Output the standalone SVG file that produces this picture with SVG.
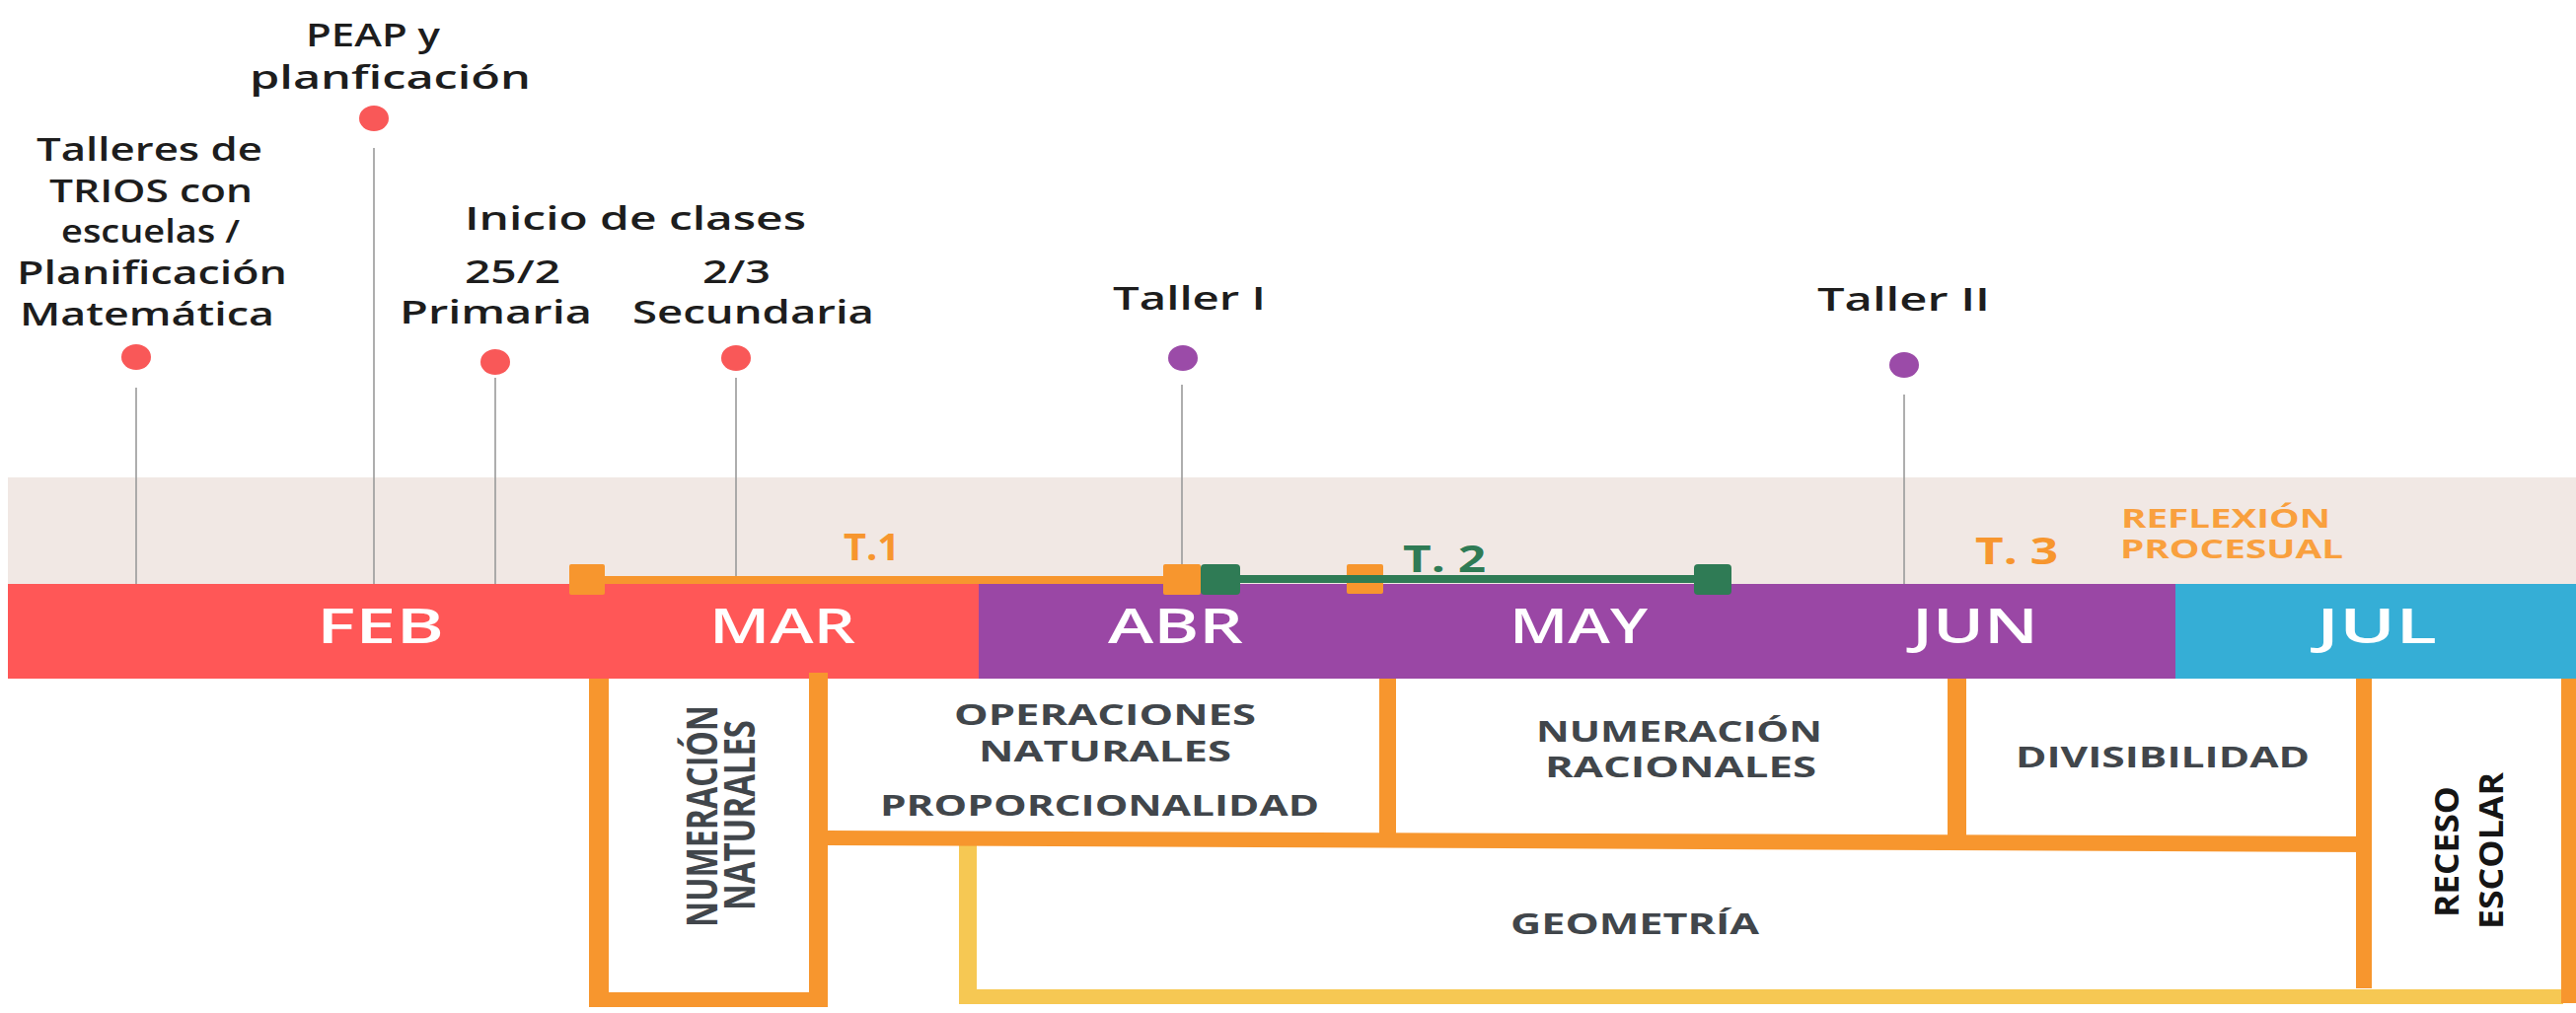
<svg xmlns="http://www.w3.org/2000/svg" width="2611" height="1027" viewBox="0 0 2611 1027">
<style>
.lbl{font-family:"Open Sans","Liberation Sans",sans-serif;font-weight:600;font-size:32px;fill:#1d1d1d}
.mon{font-family:"Open Sans","Liberation Sans",sans-serif;font-weight:600;font-size:48px;fill:#ffffff}
.tri{font-family:"Open Sans","Liberation Sans",sans-serif;font-weight:700;font-size:37px}
.sub{font-family:"Open Sans","Liberation Sans",sans-serif;font-weight:700;font-size:29px;fill:#41464b}
.rot{font-family:"Open Sans","Liberation Sans",sans-serif;font-weight:700;font-size:32px;fill:#41464b}
.rec{font-family:"Open Sans","Liberation Sans",sans-serif;font-weight:800;font-size:26px;fill:#151515}
.or{fill:#F7962E}
.ye{fill:#F6C853}
.gl{stroke:#9a9a9a;stroke-width:1.6;fill:none}
.rd{fill:#F95858}
.pu{fill:#9B4BA8}
</style>
<rect width="2611" height="1027" fill="#ffffff"/>
<g id="band"><rect x="8" y="484" width="2603" height="108" fill="#F1E8E4"/></g>
<g id="connectors">
<line class="gl" x1="138" y1="393" x2="138" y2="592"/>
<line class="gl" x1="379" y1="150" x2="379" y2="592"/>
<line class="gl" x1="502" y1="383" x2="502" y2="592"/>
<line class="gl" x1="746" y1="383" x2="746" y2="592"/>
<line class="gl" x1="1198" y1="390" x2="1198" y2="592"/>
<line class="gl" x1="1930" y1="400" x2="1930" y2="597"/>
</g>
<g id="timeline">
<rect x="8" y="592" width="984" height="96" fill="#FF5757"/>
<rect x="992" y="592" width="1213" height="96" fill="#9A47A5"/>
<rect x="2205" y="592" width="406" height="96" fill="#35AED6"/>
<text class="mon" x="321" y="652" textLength="129" lengthAdjust="spacingAndGlyphs">FEB</text>
<text class="mon" x="719" y="652" textLength="148" lengthAdjust="spacingAndGlyphs">MAR</text>
<text class="mon" x="1123" y="652" textLength="137" lengthAdjust="spacingAndGlyphs">ABR</text>
<text class="mon" x="1530" y="652" textLength="140" lengthAdjust="spacingAndGlyphs">MAY</text>
<text class="mon" x="1938" y="652" textLength="128" lengthAdjust="spacingAndGlyphs">JUN</text>
<text class="mon" x="2348" y="652" textLength="122" lengthAdjust="spacingAndGlyphs">JUL</text>
</g>
<g id="ev-talleres">
<ellipse class="rd" cx="138" cy="362" rx="15" ry="13"/>
<text class="lbl" x="37" y="163" textLength="229" lengthAdjust="spacingAndGlyphs">Talleres de</text>
<text class="lbl" x="50" y="205" textLength="206" lengthAdjust="spacingAndGlyphs">TRIOS con</text>
<text class="lbl" x="62" y="246" textLength="181" lengthAdjust="spacingAndGlyphs">escuelas /</text>
<text class="lbl" x="17" y="288" textLength="274" lengthAdjust="spacingAndGlyphs">Planificación</text>
<text class="lbl" x="20" y="330" textLength="258" lengthAdjust="spacingAndGlyphs">Matemática</text>
</g>
<g id="ev-peap">
<ellipse class="rd" cx="379" cy="120" rx="15" ry="13"/>
<text class="lbl" x="310" y="47" textLength="136" lengthAdjust="spacingAndGlyphs">PEAP y</text>
<text class="lbl" x="253" y="90" textLength="285" lengthAdjust="spacingAndGlyphs">planficación</text>
</g>
<g id="ev-inicio">
<text class="lbl" x="471" y="233" textLength="346" lengthAdjust="spacingAndGlyphs">Inicio de clases</text>
</g>
<g id="ev-primaria">
<ellipse class="rd" cx="502" cy="367" rx="15" ry="13"/>
<text class="lbl" x="471" y="287" textLength="97" lengthAdjust="spacingAndGlyphs">25/2</text>
<text class="lbl" x="405" y="328" textLength="195" lengthAdjust="spacingAndGlyphs">Primaria</text>
</g>
<g id="ev-secundaria">
<ellipse class="rd" cx="746" cy="363" rx="15" ry="13"/>
<text class="lbl" x="712" y="287" textLength="69" lengthAdjust="spacingAndGlyphs">2/3</text>
<text class="lbl" x="641" y="328" textLength="245" lengthAdjust="spacingAndGlyphs">Secundaria</text>
</g>
<g id="ev-taller1">
<ellipse class="pu" cx="1199" cy="363" rx="15" ry="13"/>
<text class="lbl" x="1128" y="314" textLength="155" lengthAdjust="spacingAndGlyphs">Taller I</text>
</g>
<g id="ev-taller2">
<ellipse class="pu" cx="1930" cy="370" rx="15" ry="13"/>
<text class="lbl" x="1842" y="315" textLength="175" lengthAdjust="spacingAndGlyphs">Taller II</text>
</g>
<g id="trimestres">
<rect class="or" x="613" y="584" width="566" height="8"/>
<rect class="or" x="577" y="572" width="36" height="31" rx="2"/>
<rect class="or" x="1179" y="572" width="38" height="31" rx="2"/>
<rect class="or" x="1365" y="572" width="37" height="30" rx="2"/>
<rect x="1217" y="583" width="520" height="8" fill="#2F7B55"/>
<rect x="1217" y="572" width="40" height="31" rx="4" fill="#2F7B55"/>
<rect x="1717" y="572" width="38" height="31" rx="4" fill="#2F7B55"/>
<text class="tri" x="855" y="568" fill="#F7962E" textLength="57" lengthAdjust="spacingAndGlyphs">T.1</text>
<text class="tri" x="1422" y="580" fill="#2F7B55" textLength="84" lengthAdjust="spacingAndGlyphs">T. 2</text>
<text class="tri" x="2002" y="572" fill="#F7962E" textLength="84" lengthAdjust="spacingAndGlyphs">T. 3</text>
<text class="tri" x="2150" y="535" fill="#F9A03E" style="font-size:26px" textLength="212" lengthAdjust="spacingAndGlyphs">REFLEXIÓN</text>
<text class="tri" x="2149" y="566" fill="#F9A03E" style="font-size:26px" textLength="226" lengthAdjust="spacingAndGlyphs">PROCESUAL</text>
</g>
<g id="frame">
<rect class="ye" x="972" y="857" width="18" height="161"/>
<rect class="ye" x="972" y="1003" width="1626" height="15"/>
<rect class="or" x="597" y="688" width="20" height="333"/>
<rect class="or" x="597" y="1006" width="242" height="15"/>
<rect class="or" x="820" y="682" width="19" height="339"/>
<polygon class="or" points="839,842 2404,848 2404,864 839,857"/>
<rect class="or" x="1398" y="688" width="17" height="162"/>
<rect class="or" x="1974" y="688" width="19" height="166"/>
<rect class="or" x="2388" y="688" width="16" height="314"/>
<rect class="or" x="2596" y="688" width="15" height="329"/>
</g>
<g id="s-numnat">
<text class="rot" transform="translate(727,940) scale(1.35,1) rotate(-90)" x="0" y="0" textLength="225" lengthAdjust="spacingAndGlyphs">NUMERACIÓN</text>
<text class="rot" transform="translate(765,923) scale(1.35,1) rotate(-90)" x="0" y="0" textLength="193" lengthAdjust="spacingAndGlyphs">NATURALES</text>
</g>
<g id="s-operaciones">
<text class="sub" x="967" y="735" textLength="306" lengthAdjust="spacingAndGlyphs">OPERACIONES</text>
<text class="sub" x="992" y="772" textLength="256" lengthAdjust="spacingAndGlyphs">NATURALES</text>
<text class="sub" x="892" y="827" textLength="445" lengthAdjust="spacingAndGlyphs">PROPORCIONALIDAD</text>
</g>
<g id="s-racionales">
<text class="sub" x="1557" y="752" textLength="290" lengthAdjust="spacingAndGlyphs">NUMERACIÓN</text>
<text class="sub" x="1566" y="788" textLength="275" lengthAdjust="spacingAndGlyphs">RACIONALES</text>
</g>
<g id="s-divisibilidad">
<text class="sub" x="2043" y="778" textLength="298" lengthAdjust="spacingAndGlyphs">DIVISIBILIDAD</text>
</g>
<g id="s-geometria">
<text class="sub" x="1531" y="947" textLength="252" lengthAdjust="spacingAndGlyphs">GEOMETRÍA</text>
</g>
<g id="s-receso">
<text class="rec" style="font-weight:700" transform="translate(2492,930) scale(1.3,1) rotate(-90)" x="0" y="0" textLength="133" lengthAdjust="spacingAndGlyphs">RECESO</text>
<text class="rec" style="font-weight:700" transform="translate(2537,942) scale(1.3,1) rotate(-90)" x="0" y="0" textLength="159" lengthAdjust="spacingAndGlyphs">ESCOLAR</text>
</g>
</svg>
